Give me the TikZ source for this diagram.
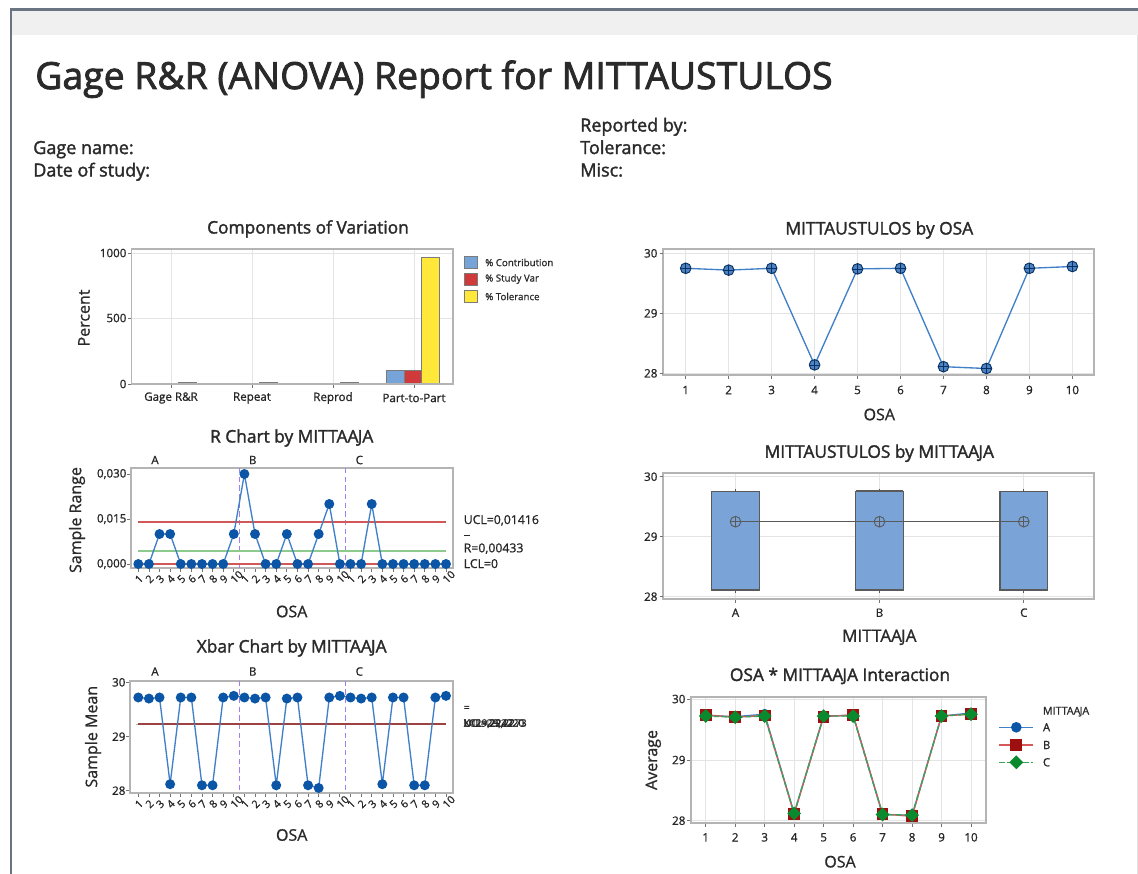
\documentclass[tikz,border=0pt]{standalone}
\usepackage{fontspec}
\setmainfont{Open Sans}
\newfontfamily\ttfont{Open Sans}[FakeBold=2.2]
\newfontfamily\sbfont{Open Sans}[FakeBold=1.8]
\newfontfamily\mdfont{Open Sans}[FakeBold=1.0]
\newcommand{\mtj}{MITTAA\kern-0.6pt JA}
\usetikzlibrary{shapes.geometric}
\definecolor{txt}{HTML}{2A2A2A}
\definecolor{framec}{HTML}{6A7483}
\definecolor{band}{HTML}{F0F0F0}
\definecolor{boxc}{HTML}{B4B4B4}
\definecolor{gridc}{HTML}{E4E4E4}
\definecolor{ptblue}{HTML}{0B55A6}
\definecolor{lnblue}{HTML}{3F80C8}
\definecolor{uclred}{HTML}{D05858}
\definecolor{clgreen}{HTML}{8CCB8C}
\definecolor{divc}{HTML}{A080F0}
\definecolor{barblue}{HTML}{76A3D8}
\definecolor{barred}{HTML}{D03A3A}
\definecolor{baryel}{HTML}{FFE83A}
\definecolor{bardark}{HTML}{5A5A5A}
\definecolor{sqred}{HTML}{9E1010}
\definecolor{lnred}{HTML}{D45A5A}
\definecolor{dmgreen}{HTML}{0A8A2E}
\definecolor{lngreen}{HTML}{3AA35A}
\definecolor{boxfill}{HTML}{7AA4D8}
\definecolor{mkfill}{HTML}{4F82C2}
\tikzset{
  rtitle/.style={font=\ttfont\fontsize{28}{32}\selectfont, text=txt, anchor=base west, inner sep=0pt},
  hdr/.style={font=\sbfont\fontsize{13.5}{16}\selectfont, text=txt, anchor=base west, inner sep=0pt},
  ttl/.style={font=\sbfont\fontsize{13}{15}\selectfont, text=txt},
  axl/.style={font=\mdfont\fontsize{12}{14}\selectfont, text=txt},
  tkl/.style={font=\mdfont\fontsize{8.7}{10}\selectfont, text=black!85, inner sep=1pt},
  grp/.style={font=\mdfont\fontsize{8.7}{10}\selectfont, text=black!85},
  lgd/.style={font=\mdfont\fontsize{7.3}{9}\selectfont, text=txt, anchor=west, inner sep=0pt},
  ctl/.style={font=\mdfont\fontsize{9.2}{11}\selectfont, text=black!85, anchor=base west, inner sep=0pt},
  ctlsm/.style={font=\mdfont\fontsize{7.7}{9}\selectfont, text=black!85, anchor=base west, inner sep=0pt},
  rtk/.style={font=\mdfont\fontsize{8}{9}\selectfont, text=black!85, rotate=45, anchor=base west, inner sep=0pt},
  gridl/.style={draw=gridc, line width=0.75pt},
  pbox/.style={draw=boxc, line width=1.4pt},
  tickm/.style={draw=black!55, line width=0.6pt},
  bar/.style={draw=bardark!80, line width=0.7pt},
  dot/.style={circle, fill=ptblue, inner sep=0pt, minimum size=7.5pt},
  ser/.style={draw=lnblue, line width=1pt},
  divl/.style={draw=divc, line width=1.1pt, dash pattern=on 4pt off 2.5pt},
  ctrl/.style={draw=uclred, line width=1.5pt},
  xmark/.style={circle, inner sep=0pt, minimum size=8pt, line width=0.7pt,
    path picture={\draw[line width=0.6pt] (path picture bounding box.north) -- (path picture bounding box.south) (path picture bounding box.west) -- (path picture bounding box.east);}},
  mkA/.style={circle, fill=ptblue, inner sep=0pt, minimum size=8pt},
  mkB/.style={rectangle, fill=sqred, inner sep=0pt, minimum size=8.8pt},
  mkC/.style={diamond, fill=dmgreen, inner sep=0pt, minimum size=10.5pt},
}
\begin{document}
\begin{tikzpicture}[x=0.75pt,y=-0.75pt]
\useasboundingbox (0,0) rectangle (1138,874);
\fill[white] (0,0) rectangle (1138,874);
% frame
\fill[band] (11,10) rectangle (1138,35);
\draw[framec, line width=2pt] (11,874) -- (11,9.5) -- (1138,9.5);
\draw[black!12, line width=0.75pt] (1137,35) -- (1137,874);

% header
\node[rtitle] (title) at (35,89) {Gage R\&R (ANOVA) Report for MITTAUSTULOS};
\node[hdr] (gname) at (33,154) {Gage name:};
\node[hdr] (gdate) at (33,176.5) {Date of study:};
\node[hdr] (repby) at (580,131.5) {Reported by:};
\node[hdr] (toler) at (580,154) {Tolerance:};
\node[hdr] (misc) at (580,176.5) {Misc:};

%================ Components of Variation
\node[ttl] (cvtitle) at (308,229) {Components of Variation};
\foreach \c in {171,252,333,414} \draw[gridl] (\c,249) -- (\c,384);
\draw[gridl] (131.5,318) -- (453,318);
\draw[gridl] (131.5,253) -- (453,253);
\foreach \c/\hb/\hr/\hy in {171/0.8/1/2, 252/0.8/1/2, 333/0.8/1/2, 414/13.3/13.3/126.7} {
  \draw[bar, fill=barblue] ({\c-27.3},384) rectangle ({\c-10},{384-\hb});
  \draw[bar, fill=barred] ({\c-10},384) rectangle ({\c+7.7},{384-\hr});
  \draw[bar, fill=baryel] ({\c+7.7},384) rectangle ({\c+25.3},{384-\hy});
}
\draw[pbox] (131.5,249) rectangle (453,384);
\foreach \yy/\lab [count=\k] in {253/1000, 318/500, 384/0} {
  \draw[tickm] (127.5,\yy) -- (130.5,\yy);
  \node[tkl, anchor=east] (cvy\k) at (128,\yy) {\lab};
}
\foreach \c/\lab [count=\k] in {171/{Gage R\&R}, 252/Repeat, 333/Reprod, 414/Part-to-Part} {
  \draw[tickm] (\c,385) -- (\c,388);
  \node[tkl] (cvx\k) at (\c,398) {\lab};
}
\node[axl, rotate=90] (cvyl) at (84,318) {Percent};
\foreach \col/\lab/\yy [count=\k] in {barblue/{\% Contribution}/262.5, barred/{\% Study Var}/279, baryel/{\% Tolerance}/296.5} {
  \draw[bar, fill=\col] (464,{\yy-6}) rectangle (477,{\yy+6});
  \node[lgd] (cvl\k) at (485,\yy) {\lab};
}

%================ R chart
\node[ttl] (rtitle) at (291.7,438) {R Chart by \mtj};
\node[grp] (ra) at (155,460) {A};
\node[grp] (rb) at (252.7,460) {B};
\node[grp] (rc) at (359.3,460) {C};
\draw[pbox] (131,468) rectangle (453,568);
\draw[divl] (239.3,468) -- (239.3,568);
\draw[divl] (345.7,468) -- (345.7,568);
\draw[ctrl] (138.3,521.5) -- (446,521.5);
\draw[clgreen, line width=1.3pt] (138.3,551) -- (446,551);
\draw[ctrl] (138.3,564) -- (446,564);
\foreach \v [count=\i] in {0,0,0.01,0.01,0,0,0,0,0,0.01,0.03,0.01,0,0,0.01,0,0,0.01,0.02,0,0,0,0.02,0,0,0,0,0,0,0}
  \coordinate (rp\i) at ({138.3+10.61*(\i-1)},{564-3000*\v});
\draw[ser] (rp1) \foreach \i in {2,...,30} {-- (rp\i)};
\foreach \i in {1,...,30} \node[dot] (rd\i) at (rp\i) {};
\foreach \yy/\lab [count=\k] in {474/{0,030}, 519/{0,015}, 564/{0,000}} {
  \draw[tickm] (127,\yy) -- (130,\yy);
  \node[tkl, anchor=east] (ry\k) at (128,\yy) {\lab};
}
\foreach \i in {1,...,30} {
  \pgfmathtruncatemacro\lab{mod(\i-1,10)+1}
  \draw[tickm] ({138.3+10.61*(\i-1)},569) -- ({138.3+10.61*(\i-1)},572);
  \node[rtk] (rl\i) at ({138.3+10.61*(\i-1)+1},584) {\lab};
}
\node[axl] (rxl) at (291.7,611.5) {OSA};
\node[axl, rotate=90] (ryl) at (77,520) {Sample Range};
\node[ctl] (rucl) at (463.5,524) {UCL=0,01416};
\node[ctl] (rbar) at (463.5,536) {\rule{4.5pt}{0.7pt}};
\node[ctl] (rr) at (463.5,552.3) {R=0,00433};
\node[ctl] (rlcl) at (463.5,568) {LCL=0};

%================ Xbar chart
\node[ttl] (xtitle) at (291.7,648) {Xbar Chart by \mtj};
\node[grp] (xa) at (155,671.5) {A};
\node[grp] (xb) at (252.7,671.5) {B};
\node[grp] (xc) at (359.3,671.5) {C};
\draw[pbox] (130,680.7) rectangle (453,793.3);
\draw[divl] (239.3,680.7) -- (239.3,793.3);
\draw[divl] (345.7,680.7) -- (345.7,793.3);
\draw[clgreen, line width=1pt] (136,724.3) -- (140,724.3);
\draw[ctrl, draw=uclred!75!black] (138.3,724.3) -- (446,724.3);
\foreach \v [count=\i] in {29.72,29.70,29.72,28.12,29.72,29.72,28.10,28.10,29.72,29.75,
                          29.72,29.70,29.72,28.10,29.70,29.72,28.10,28.05,29.72,29.75,
                          29.72,29.70,29.72,28.12,29.72,29.72,28.10,28.10,29.72,29.75}
  \coordinate (xp\i) at ({138.3+10.61*(\i-1)},{682.3+54.2*(30-\v)});
\draw[ser] (xp1) \foreach \i in {2,...,30} {-- (xp\i)};
\foreach \i in {1,...,30} \node[dot] (xd\i) at (xp\i) {};
\foreach \yy/\lab [count=\k] in {682.3/30, 736.7/29, 790.7/28} {
  \draw[tickm] (126,\yy) -- (129,\yy);
  \node[tkl, anchor=east] (xy\k) at (127,\yy) {\lab};
}
\foreach \i in {1,...,30} {
  \pgfmathtruncatemacro\lab{mod(\i-1,10)+1}
  \draw[tickm] ({138.3+10.61*(\i-1)},794.3) -- ({138.3+10.61*(\i-1)},797.3);
  \node[rtk] (xl\i) at ({138.3+10.61*(\i-1)+1},809) {\lab};
}
\node[axl] (xxl) at (291.7,835) {OSA};
\node[axl, rotate=90] (xyl) at (93,736.7) {Sample Mean};
\node[ctlsm] (xdbar) at (463.5,711) {=};
\node[ctlsm] (xucl) at (463.5,726.7) {UCL=29,2273};
\node[ctlsm] (xmean) at (463.5,726.7) {X=29,2247};
\node[ctlsm] (xlcl) at (463.5,726.7) {LCL=29,2220};

%================ MITTAUSTULOS by OSA
\node[ttl] (otitle) at (879.3,230) {MITTAUSTULOS by OSA};
\foreach \k in {1,...,10} \draw[gridl] ({685.7+42.96*(\k-1)},249.3) -- ({685.7+42.96*(\k-1)},375);
\draw[gridl] (663.3,313.3) -- (1094,313.3);
\draw[gridl] (663.3,253.3) -- (1094,253.3);
\draw[gridl] (663.3,373.3) -- (1094,373.3);
\draw[pbox] (663.3,249.3) rectangle (1094,375);
\foreach \v [count=\k] in {29.75,29.72,29.75,28.14,29.74,29.75,28.11,28.08,29.75,29.78}
  \coordinate (op\k) at ({685.7+42.96*(\k-1)},{253.3+60*(30-\v)});
\draw[ser] (op1) \foreach \k in {2,...,10} {-- (op\k)};
\foreach \k in {1,...,10} \node[xmark, draw=ptblue!60!black, fill=mkfill] (om\k) at (op\k) {};
\foreach \yy/\lab [count=\k] in {253.3/30, 313.3/29, 373.3/28} {
  \draw[tickm] (659.5,\yy) -- (662.5,\yy);
  \node[tkl, anchor=east] (oy\k) at (659,\yy) {\lab};
}
\foreach \k in {1,...,10} {
  \draw[tickm] ({685.7+42.96*(\k-1)},376) -- ({685.7+42.96*(\k-1)},379);
  \node[tkl] (ox\k) at ({685.7+42.96*(\k-1)},390) {\k};
}
\node[axl] (oxl) at (879.3,414.5) {OSA};

%================ MITTAUSTULOS by MITTAAJA
\node[ttl] (mtitle) at (879.3,453.3) {MITTAUSTULOS by \mtj};
\foreach \c in {735.5,879.5,1023.8} \draw[gridl] (\c,472.7) -- (\c,599.3);
\draw[gridl] (663.3,536.7) -- (1094,536.7);
\draw[gridl] (663.3,476.7) -- (1094,476.7);
\draw[gridl] (663.3,596.7) -- (1094,596.7);
\draw[pbox] (663.3,472.7) rectangle (1094,599.3);
\foreach \c/\lab [count=\k] in {735.5/A, 879.5/B, 1023.8/C} {
  \draw[bardark, line width=0.8pt] (\c,488.5) -- (\c,593);
  \draw[draw=bardark, line width=1.1pt, fill=boxfill] ({\c-23.8},491.7) rectangle ({\c+23.8},590);
  \draw[tickm] (\c,600.3) -- (\c,603.3);
  \node[tkl] (mx\k) at (\c,612.7) {\lab};
}
\draw[bardark, line width=1.6pt] (856.2,490.9) -- (902.8,490.9);
\node[xmark, draw=bardark] (mm1) at (735.5,521.7) {};
\node[xmark, draw=bardark] (mm2) at (879.5,521.7) {};
\node[xmark, draw=bardark] (mm3) at (1023.8,521.7) {};
\draw[bardark, line width=0.8pt] (mm1) -- (mm2) -- (mm3);
\foreach \yy/\lab [count=\k] in {476.7/30, 536.7/29, 596.7/28} {
  \draw[tickm] (659.5,\yy) -- (662.5,\yy);
  \node[tkl, anchor=east] (my\k) at (659,\yy) {\lab};
}
\node[axl, font=\mdfont\fontsize{12.8}{15}\selectfont] (mxl) at (879.3,637.3) {\mtj};

%================ Interaction
\node[ttl] (ititle) at (840,676) {OSA * \mtj{} Interaction};
\foreach \k in {1,...,10} \draw[gridl] ({705.7+29.48*(\k-1)},696.7) -- ({705.7+29.48*(\k-1)},822.7);
\draw[gridl] (691,760) -- (985.7,760);
\draw[gridl] (691,699) -- (985.7,699);
\draw[gridl] (691,820.7) -- (985.7,820.7);
\draw[pbox] (691,696.7) rectangle (985.7,822.7);
\foreach \va/\vb/\vc [count=\k] in {29.73/29.74/29.72, 29.71/29.70/29.70, 29.75/29.73/29.72, 28.12/28.11/28.12, 29.72/29.71/29.72,
                                   29.73/29.74/29.72, 28.10/28.11/28.10, 28.09/28.07/28.09, 29.72/29.72/29.72, 29.77/29.75/29.75} {
  \coordinate (ia\k) at ({705.7+29.48*(\k-1)},{699+60.8*(30-\va)});
  \coordinate (ib\k) at ({705.7+29.48*(\k-1)},{699+60.8*(30-\vb)});
  \coordinate (ic\k) at ({705.7+29.48*(\k-1)},{699+60.8*(30-\vc)});
}
\draw[lnblue, line width=1pt] (ia1) \foreach \k in {2,...,10} {-- (ia\k)};
\draw[lnred, line width=1pt] (ib1) \foreach \k in {2,...,10} {-- (ib\k)};
\draw[lngreen, line width=1pt, dash pattern=on 4pt off 2pt] (ic1) \foreach \k in {2,...,10} {-- (ic\k)};
\foreach \k in {1,...,10} \node[mkA] (iam\k) at (ia\k) {};
\foreach \k in {1,...,10} \node[mkB] (ibm\k) at (ib\k) {};
\foreach \k in {1,...,10} \node[mkC] (icm\k) at (ic\k) {};
\foreach \yy/\lab [count=\k] in {699/30, 760/29, 820.7/28} {
  \draw[tickm] (687,\yy) -- (690,\yy);
  \node[tkl, anchor=east] (iy\k) at (687,\yy) {\lab};
}
\foreach \k in {1,...,10} {
  \draw[tickm] ({705.7+29.48*(\k-1)},823.7) -- ({705.7+29.48*(\k-1)},826.7);
  \node[tkl] (ix\k) at ({705.7+29.48*(\k-1)},837.3) {\k};
}
\node[axl] (ixl) at (840,861.7) {OSA};
\node[axl, rotate=90] (iyl) at (653.3,760) {Average};
% legend
\node[lgd, font=\mdfont\fontsize{8}{9}\selectfont] (ilt) at (1042.7,711.7) {\mtj};
\coordinate (lga0) at (999.3,727.3); \coordinate (lga1) at (1033.3,727.3);
\coordinate (lgb0) at (999.3,745); \coordinate (lgb1) at (1033.3,745);
\coordinate (lgc0) at (999.3,762.3); \coordinate (lgc1) at (1033.3,762.3);
\draw[lnblue, line width=1pt] (lga0) -- (lga1);
\draw[lnred, line width=1pt] (lgb0) -- (lgb1);
\draw[lngreen, line width=1pt, dash pattern=on 4pt off 2pt] (lgc0) -- (lgc1);
\node[mkA] (lgam) at (1016.3,727.3) {};
\node[mkB] (lgbm) at (1016.3,745) {};
\node[mkC] (lgcm) at (1016.3,762.3) {};
\node[lgd, font=\mdfont\fontsize{8.5}{10}\selectfont] (lgat) at (1042.7,727.3) {A};
\node[lgd, font=\mdfont\fontsize{8.5}{10}\selectfont] (lgbt) at (1042.7,745) {B};
\node[lgd, font=\mdfont\fontsize{8.5}{10}\selectfont] (lgct) at (1042.7,762.3) {C};
\end{tikzpicture}
\end{document}
